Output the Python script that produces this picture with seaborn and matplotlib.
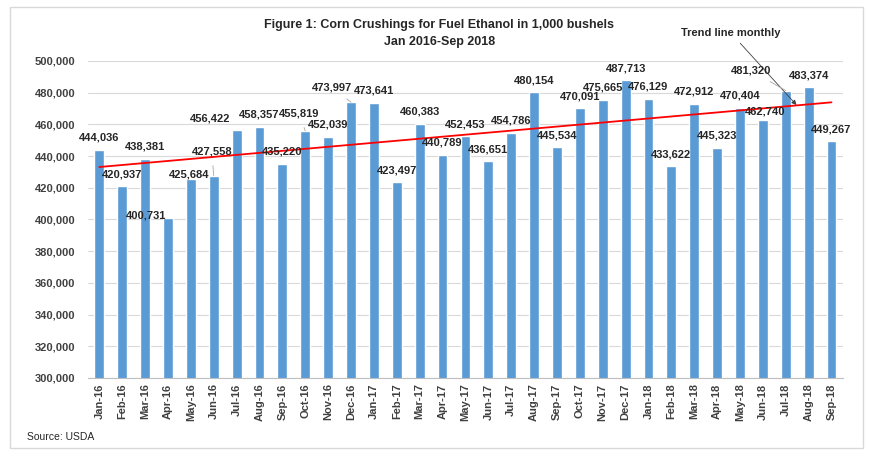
import numpy as np
import pandas as pd
import matplotlib
matplotlib.use("Agg")
import matplotlib.pyplot as plt
import seaborn as sns
from matplotlib.patches import Rectangle

# monthly corn crushings, 1,000 bushels
months = ['Jan-16', 'Feb-16', 'Mar-16', 'Apr-16', 'May-16', 'Jun-16', 'Jul-16', 'Aug-16', 'Sep-16',
          'Oct-16', 'Nov-16', 'Dec-16', 'Jan-17', 'Feb-17', 'Mar-17', 'Apr-17', 'May-17', 'Jun-17',
          'Jul-17', 'Aug-17', 'Sep-17', 'Oct-17', 'Nov-17', 'Dec-17', 'Jan-18', 'Feb-18', 'Mar-18',
          'Apr-18', 'May-18', 'Jun-18', 'Jul-18', 'Aug-18', 'Sep-18']
crushings = [444036, 420937, 438381, 400731, 425684, 427558, 456422, 458357, 435220,
             455819, 452039, 473997, 473641, 423497, 460383, 440789, 452453, 436651,
             454786, 480154, 445534, 470091, 475665, 487713, 476129, 433622, 472912,
             445323, 470404, 462740, 481320, 483374, 449267]

df = pd.DataFrame({'month': months, 'bushels': crushings})

sns.set_style("white")
plt.rcParams['font.family'] = ['Liberation Sans', 'DejaVu Sans']

fig = plt.figure(figsize=(8.79, 4.62), dpi=100)
ax = fig.add_axes([0.100, 0.182, 0.859, 0.686])

sns.barplot(data=df, x='month', y='bushels', color='#5B9BD5', width=0.43,
            saturation=1, ax=ax, zorder=2)

# linear trend over the months
idx = np.arange(len(crushings))
slope, icpt = np.polyfit(idx, crushings, 1)
ax.plot(idx[[0, -1]], icpt + slope * idx[[0, -1]], color='#FF0000', lw=1.3, zorder=4)

ax.set_ylim(300000, 500000)
ax.set_xlim(-0.5, len(months) - 0.5)
ax.set_yticks(np.arange(300000, 500001, 20000))
ax.set_yticklabels([f'{v:,}' for v in range(300000, 500001, 20000)],
                   fontsize=8, fontweight='bold', color='#404040')
ax.yaxis.grid(True, color='#D9D9D9', lw=0.8, zorder=0)
ax.set_axisbelow(True)
ax.tick_params(axis='y', length=0, pad=9)
ax.set_xticks(idx)
ax.set_xticklabels(months, rotation=90, fontsize=8, fontweight='bold', color='#404040')
ax.tick_params(axis='x', length=0, pad=4)
ax.set_xticks(np.arange(-0.5, len(months), 1), minor=True)
ax.tick_params(axis='x', which='minor', length=5, color='#BFBFBF')
ax.set_xlabel('')
ax.set_ylabel('')
for s in ['top', 'right', 'left']:
    ax.spines[s].set_visible(False)
ax.spines['bottom'].set_color('#BFBFBF')

# label offsets in pixels (dx, dy above bar top), leader lines for moved ones
offsets = {3: (-22, 3), 4: (-2, 4), 5: (-2, 24), 6: (-26, 12), 9: (-6, 17),
           11: (-19, 15), 29: (2, 9), 30: (-35, 20)}
leaders = {5, 9, 11, 30}
for i, v in enumerate(crushings):
    dx, dy = offsets.get(i, (0, 12))
    kw = {}
    if i in leaders:
        kw['arrowprops'] = dict(arrowstyle='-', color='#A6A6A6', lw=0.6, shrinkA=4, shrinkB=0)
    ax.annotate(f'{v:,}', xy=(i, v), xytext=(dx * 0.72, dy * 0.72), textcoords='offset points',
                ha='center', va='center', fontsize=8, fontweight='bold', color='#262626',
                zorder=5, annotation_clip=False, **kw)

ax.annotate('Trend line monthly', xy=(30.47, 472200), xytext=(27.6, 517700),
            ha='center', va='center', fontsize=8, fontweight='bold', color='#262626',
            annotation_clip=False,
            arrowprops=dict(arrowstyle='-|>', color='#404040', lw=0.6, mutation_scale=7,
                            shrinkA=2, shrinkB=0))

fig.text(0.5, 0.946, 'Figure 1: Corn Crushings for Fuel Ethanol in 1,000 bushels',
         ha='center', va='center', fontsize=9, fontweight='bold', color='#262626')
fig.text(0.5, 0.909, 'Jan 2016-Sep 2018', ha='center', va='center',
         fontsize=9, fontweight='bold', color='#262626')
fig.text(0.031, 0.054, 'Source: USDA', ha='left', va='center', fontsize=7.5, color='#262626')

fig.patches.append(Rectangle((0.0114, 0.030), 0.970, 0.955, transform=fig.transFigure,
                             fill=False, edgecolor='#D9D9D9', lw=1))

fig.savefig('out.png', dpi=100, facecolor='white')
